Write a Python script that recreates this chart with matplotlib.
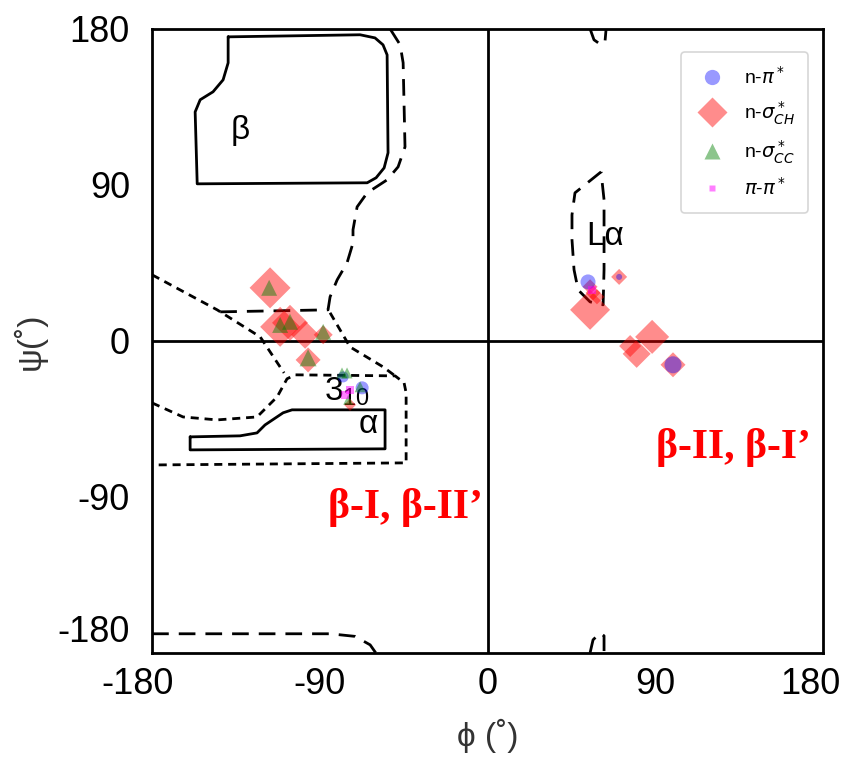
import matplotlib
matplotlib.use("Agg")
import matplotlib.pyplot as plt
import matplotlib.transforms as mtrans
from matplotlib.lines import Line2D
import numpy as np

plt.rcParams['font.family'] = ['Liberation Sans', 'DejaVu Sans']

# ---------------- data (phi, psi in degrees) ----------------
# n-pi* (blue circles): phi, psi, relative strength
npi_phi = [-77.5, -67.3, 53.9, 70.6, 99.5]
npi_psi = [-20.8, -27.1, 34.0, 36.9, -13.8]
npi_str = [1.1, 1.3, 1.5, 0.6, 1.7]

# n-sigma*_CH (red diamonds)
nch_phi = [-116.7, -111.3, -106.0, -97.9, -96.3, -88.2, -73.8, 55.0, 55.0, 56.6, 58.7, 70.6, 76.5, 80.0, 88.3, 99.5]
nch_psi = [30.6, 8.1, 10.4, 3.5, -11.0, 3.5, -36.9, 17.9, 31.2, 27.7, 25.4, 36.9, -3.0, -7.5, 2.3, -13.8]
nch_str = [4.1, 4.0, 3.6, 2.8, 2.5, 1.9, 1.2, 4.0, 1.5, 1.5, 1.5, 1.6, 2.2, 2.8, 3.4, 2.5]

# n-sigma*_CC (green triangles)
ncc_phi = [-117.2, -111.3, -106.0, -96.3, -88.2, -78.1, -75.4, -68.4, -74.8]
ncc_psi = [30.6, 9.2, 11.0, -9.8, 5.2, -18.5, -18.5, -26.5, -34.0]
ncc_str = [1.6, 1.6, 1.6, 1.7, 1.6, 1.1, 1.1, 1.1, 1.0]

# pi-pi* (magenta squares)
pp_phi = [-73.8, -76.4, 56.1]
pp_psi = [-28.3, -31.2, 29.4]

# Ramachandran reference region outlines (phi, psi)
beta_core = [(-139.2, 175.4), (-68.4, 176.6), (-60.4, 174.8), (-56.1, 170.8), (-53.9, 165.0),
             (-53.4, 108.5), (-55.5, 99.8), (-59.8, 94.1), (-64.6, 91.2),
             (-155.8, 90.6), (-156.9, 132.1), (-154.2, 139.1), (-147.3, 143.7), (-141.9, 150.6),
             (-139.2, 160.4), (-139.2, 175.4)]
alpha_core = [(-159.6, -55.4), (-159.6, -62.9), (-55.0, -62.3), (-55.0, -39.8), (-104.9, -39.8),
              (-109.7, -41.5), (-119.4, -48.5), (-123.7, -53.1), (-132.8, -54.8), (-159.6, -55.4)]
allowed_left = [(-52.3, 180.0), (-46.9, 170.8), (-45.3, 160.4), (-44.3, 111.9), (-48.0, 100.4),
                (-53.9, 92.9), (-64.6, 85.4), (-70.0, 77.3), (-72.2, 64.1), (-72.2, 56.5),
                (-75.4, 45.0), (-80.7, 35.2), (-84.5, 25.4), (-85.6, 17.9), (-145.1, 16.7)]
allowed_bottom = [(-180.0, -169.0), (-84.5, -169.0), (-71.1, -170.5), (-63.0, -175.4), (-60.0, -180.0)]
lalpha = [(60.9, 97.5), (46.9, 85.4), (45.3, 72.7), (45.3, 58.3), (46.4, 41.0), (48.6, 29.4),
          (55.0, 22.5), (62.0, 20.8), (62.5, 41.0), (62.5, 81.4), (60.9, 97.5)]
lalpha_top = [(55.0, 180.0), (57.1, 173.7), (60.9, 170.8), (63.0, 172.5), (63.6, 180.0)]
lalpha_bot = [(55.0, -180.0), (56.6, -172.5), (60.4, -168.5), (62.5, -170.2), (62.5, -180.0)]
gen_1 = [(-180.0, 38.1), (-145.1, 17.9), (-122.0, 2.3), (-115.6, -8.1), (-109.2, -18.5)]
gen_2 = [(-180.0, -35.8), (-163.4, -43.9), (-145.1, -45.6), (-123.7, -43.9), (-112.9, -32.3),
         (-107.6, -21.9), (-103.3, -19.6), (-49.6, -20.2), (-44.8, -24.2), (-43.7, -30.0),
         (-43.7, -70.4), (-180.0, -71.6)]
gen_3 = [(-84.5, 16.2), (-73.8, -3.5), (-56.1, -15.0), (-49.6, -20.2)]

ticks = [-180, -90, 0, 90, 180]

# ---------------- figure ----------------
fig = plt.figure(figsize=(8.45, 7.6), dpi=100)
ax = fig.add_axes([0.180, 0.141, 0.794, 0.821])
ax.set_xlim(-180, 180)
ax.set_ylim(-180, 180)

def draw(path, ls, lw=2.0):
    arr = np.array(path)
    ax.plot(arr[:, 0], arr[:, 1], color='k', lw=lw, ls=ls, zorder=1,
            solid_capstyle='round', solid_joinstyle='round')

long_dash = (0, (6, 3.6))
short_dash = (0, (2.9, 2.1))
draw(beta_core, '-')
draw(alpha_core, '-')
draw(allowed_left, long_dash)
draw(allowed_bottom, long_dash)
draw(lalpha, long_dash)
draw(lalpha_top, long_dash)
draw(lalpha_bot, long_dash)
draw(gen_1, short_dash)
draw(gen_2, short_dash)
draw(gen_3, short_dash)

ax.axhline(0, color='k', lw=2.0, zorder=1)
ax.axvline(0, color='k', lw=2.0, zorder=1)

def dsize(v):
    return (np.array(v) * 10 * 0.72 / 1.414) ** 2

ax.scatter(nch_phi, nch_psi, s=dsize(nch_str), marker='D', color='red', alpha=0.45,
           edgecolors='none', zorder=3)
ax.scatter(npi_phi, npi_psi, s=(np.array(npi_str) * 10 * 0.72) ** 2, marker='o', color='blue',
           alpha=0.4, edgecolors='none', zorder=4)
ax.scatter(ncc_phi, ncc_psi, s=(np.array(ncc_str) * 10 * 0.72) ** 2, marker='^', color='green',
           alpha=0.45, edgecolors='none', zorder=5)
ax.scatter(pp_phi, pp_psi, s=30, marker='s', color='magenta', alpha=0.5,
           edgecolors='none', zorder=6)

# region labels
ax.text(-132.8, 121.6, 'β', fontsize=24, ha='center', va='center')
ax.text(-64.1, -48.5, 'α', fontsize=24, ha='center', va='center')
ax.text(-75.5, -29.5, r'$\mathregular{3_{10}}$', fontsize=24, ha='center', va='center', zorder=2)
ax.text(63.0, 60.0, 'Lα', fontsize=24, ha='center', va='center')

ax.text(-44.0, -96.4, 'β-I, β-II’', fontsize=30, color='red', fontweight='bold',
        family='Liberation Serif', ha='center', va='center')
ax.text(131.7, -61.7, 'β-II, β-I’', fontsize=30, color='red', fontweight='bold',
        family='Liberation Serif', ha='center', va='center')

ax.set_xticks(ticks)
ax.set_yticks(ticks)
ax.set_xticklabels([str(t) for t in ticks])
ax.set_yticklabels([str(t) for t in ticks])
ax.tick_params(length=0, labelsize=26)
ax.tick_params(axis='x', pad=10)
ax.tick_params(axis='y', pad=16)
for sp in ax.spines.values():
    sp.set_linewidth(2.0)
    sp.set_color('k')

# shift end tick labels as in the reference
def shift(lbl, dx, dy):
    lbl.set_transform(lbl.get_transform() + mtrans.ScaledTranslation(dx / 100, dy / 100, fig.dpi_scale_trans))

xl = ax.get_xticklabels()
yl = ax.get_yticklabels()
shift(xl[0], -15, 0)
shift(xl[-1], -13, 0)
shift(yl[0], 0, 24)

ax.set_xlabel('ϕ (˚)', fontsize=24, color='#333333', labelpad=12)
ax.set_ylabel('ψ(˚)', fontsize=24, color='#333333', labelpad=8)

handles = [
    Line2D([], [], marker='o', ls='', color='blue', alpha=0.4, markersize=11, mec='none'),
    Line2D([], [], marker='D', ls='', color='red', alpha=0.45, markersize=15, mec='none'),
    Line2D([], [], marker='^', ls='', color='green', alpha=0.45, markersize=11, mec='none'),
    Line2D([], [], marker='s', ls='', color='magenta', alpha=0.5, markersize=5, mec='none'),
]
labels = [r'n-$\pi^*$', r'n-$\sigma^*_{CH}$', r'n-$\sigma^*_{CC}$', r'$\pi$-$\pi^*$']
leg = ax.legend(handles, labels, loc='upper right', bbox_to_anchor=(0.978, 0.963),
                borderaxespad=0, fontsize=14, labelspacing=0.6, handletextpad=0.7,
                handlelength=1.8, borderpad=0.7, frameon=True, fancybox=True)
leg.get_frame().set_edgecolor('#cccccc')
leg.get_frame().set_linewidth(1.2)

fig.savefig('out.png', dpi=100)
